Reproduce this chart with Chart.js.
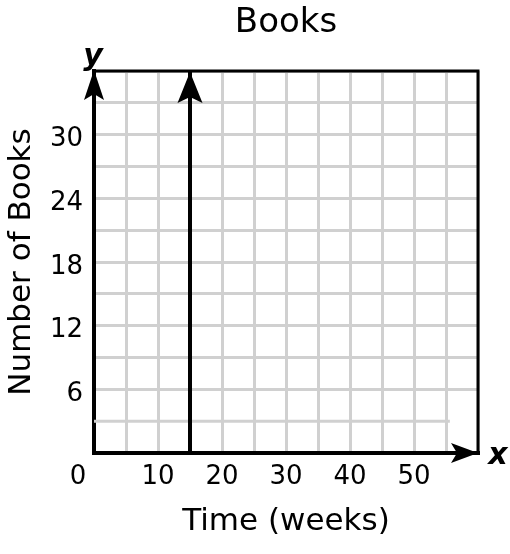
<!DOCTYPE html>
<html>
<head>
<meta charset="utf-8">
<script src="https://cdn.jsdelivr.net/npm/chart.js@4.4.1/dist/chart.umd.min.js"></script>
<style>
body { margin: 0; background: #fff; }
#wrap { width: 510px; height: 554px; }
</style>
</head>
<body>
<div id="wrap"><canvas id="books_chart"></canvas></div>
<script>
// values
var xTickLabels = [10, 20, 30, 40, 50];
var yTickLabels = [6, 12, 18, 24, 30];
var weekValues = [15, 15];
var bookValues = [0, 36];
var xRange = [0, 60];
var yRange = [0, 36];

var FONT = "'DejaVu Sans', Verdana, sans-serif";
var GRID = '#d0d0d0';
var INK = '#000';

//draw a notched arrow head, dir is 'up' or 'right'
function arrowHead(ctx, x, y, dir, len, half, notch) {
	ctx.beginPath();
	ctx.moveTo(x, y);
	if (dir == 'up') {
		ctx.lineTo(x + half, y + len);
		ctx.lineTo(x, y + notch);
		ctx.lineTo(x - half, y + len);
	} else {
		ctx.lineTo(x - len, y - half);
		ctx.lineTo(x - notch, y);
		ctx.lineTo(x - len, y + half);
	}
	ctx.closePath();
	ctx.fill();
}

var extras = {
	id: 'extras',
	beforeDatasetsDraw: function(chart) {
		var ctx = chart.ctx, a = chart.chartArea;
		var xs = chart.scales.x, ys = chart.scales.y;
		ctx.save();
		// the lowest grid line stops short of the right edge
		ctx.strokeStyle = GRID;
		ctx.lineWidth = 3;
		ctx.beginPath();
		ctx.moveTo(a.left, ys.getPixelForValue(3));
		ctx.lineTo(xs.getPixelForValue(55.6), ys.getPixelForValue(3));
		ctx.stroke();
		// top and right frame
		ctx.strokeStyle = INK;
		ctx.lineWidth = 3;
		ctx.beginPath();
		ctx.moveTo(a.left, a.top);
		ctx.lineTo(a.right, a.top);
		ctx.lineTo(a.right, a.bottom);
		ctx.stroke();
		ctx.restore();
	},
	afterDraw: function(chart) {
		var ctx = chart.ctx, a = chart.chartArea;
		var xs = chart.scales.x, ys = chart.scales.y;
		ctx.save();
		ctx.fillStyle = INK;
		arrowHead(ctx, a.left, a.top - 1, 'up', 30, 10, 24);
		arrowHead(ctx, a.right, a.bottom, 'right', 27, 10, 21);
		arrowHead(ctx, xs.getPixelForValue(weekValues[1]), ys.getPixelForValue(bookValues[1]) + 1, 'up', 31, 12.5, 25);

		ctx.textAlign = 'center';
		ctx.textBaseline = 'alphabetic';
		ctx.font = '34px ' + FONT;
		ctx.fillText('Books', (a.left + a.right) / 2, 32);

		ctx.font = 'italic bold 30px ' + FONT;
		ctx.fillText('y', a.left - 1, 65);
		ctx.fillText('x', 498, 464);

		// the origin label sits left of the axis
		ctx.font = '26px ' + FONT;
		ctx.textBaseline = 'middle';
		ctx.fillText('0', 78, xs.top + 9 + 26 * 1.2 / 2);
		ctx.restore();
	}
};

var pts = weekValues.map(function(w, i) { return {x: w, y: bookValues[i]}; });

window.booksChart = new Chart(document.getElementById('books_chart'), {
	type: 'scatter',
	data: {
		datasets: [{
			data: pts,
			showLine: true,
			borderColor: INK,
			borderWidth: 4,
			pointRadius: 0,
			clip: false
		}]
	},
	options: {
		responsive: true,
		maintainAspectRatio: false,
		animation: false,
		layout: { padding: { top: 71, right: 32, left: 0, bottom: 0 } },
		plugins: {
			legend: { display: false },
			tooltip: { enabled: false }
		},
		scales: {
			x: {
				type: 'linear',
				min: xRange[0],
				max: xRange[1],
				afterFit: function(s) { s.height = 101; },
				border: { color: INK, width: 4 },
				grid: { color: GRID, lineWidth: 3, drawTicks: false },
				ticks: {
					stepSize: 5,
					autoSkip: false,
					maxRotation: 0,
					padding: 9,
					color: INK,
					font: { family: FONT, size: 26 },
					callback: function(v) { return xTickLabels.indexOf(v) >= 0 ? String(v) : ''; }
				},
				title: {
					display: true,
					text: 'Time (weeks)',
					color: INK,
					font: { family: FONT, size: 31 },
					padding: { top: 0, bottom: 13 }
				}
			},
			y: {
				type: 'linear',
				min: yRange[0],
				max: yRange[1],
				afterFit: function(s) { s.width = 94; },
				border: { color: INK, width: 4 },
				grid: {
					color: function(c) { return c.tick && c.tick.value == 3 ? 'rgba(0,0,0,0)' : GRID; },
					lineWidth: 3,
					drawTicks: false
				},
				ticks: {
					stepSize: 3,
					autoSkip: false,
					padding: 11,
					color: INK,
					// empty first line + small line height nudges labels a few px below their grid line
					font: { family: FONT, size: 26, lineHeight: '10px' },
					callback: function(v) { return yTickLabels.indexOf(v) >= 0 ? ['', String(v)] : ''; }
				},
				title: {
					display: true,
					text: 'Number of Books',
					color: INK,
					font: { family: FONT, size: 31 },
					padding: { top: 3, bottom: 0 }
				}
			}
		}
	},
	plugins: [extras]
});
</script>
</body>
</html>
